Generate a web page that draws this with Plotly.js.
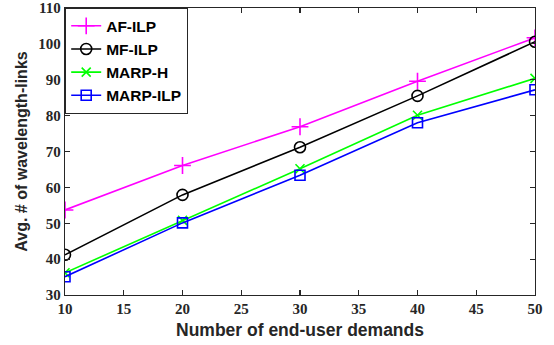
<!DOCTYPE html>
<html><head><meta charset="utf-8">
<script src="https://cdn.plot.ly/plotly-3.0.1.min.js"></script>
<style>html,body{margin:0;padding:0;background:#fff}#chart{width:554px;height:345px}</style>
</head><body><div id="chart"></div>
<script>
const demands = [10, 20, 30, 40, 50];
const afIlp = [53.7, 66.1, 76.9, 89.6, 101.7];
const mfIlp = [41.2, 57.9, 71.2, 85.5, 100.6];
const marpH = [36.2, 50.8, 65.2, 80.1, 90.4];
const marpIlp = [35.1, 50.1, 63.4, 78.0, 87.2];
const xTicks = [10, 15, 20, 25, 30, 35, 40, 45, 50];
const yTicks = [30, 40, 50, 60, 70, 80, 90, 100, 110];

function tr(name, y, color, symbol, size) {
  return {x: demands, y: y, name: name, type: 'scatter', mode: 'lines+markers',
    line: {color: color, width: 1.6},
    marker: {symbol: symbol, size: size, color: color, line: {color: color, width: 1.6}}};
}
const data = [
  tr('AF-ILP', afIlp, '#ff00ff', 'cross-thin-open', 12),
  tr('MF-ILP', mfIlp, '#000000', 'circle-open', 11),
  tr('MARP-H', marpH, '#00ff00', 'x-thin-open', 9),
  tr('MARP-ILP', marpIlp, '#0000ff', 'square-open', 10)
];
const axisCommon = {showgrid: false, zeroline: false, showline: true, linecolor: '#262626', linewidth: 1.2,
  mirror: 'ticks', ticks: 'inside', ticklen: 5, tickcolor: '#262626', tickwidth: 1.2,
  tickfont: {family: 'Liberation Serif', size: 15, color: '#262626', weight: 'bold'}};
const layout = {
  width: 554, height: 345,
  margin: {l: 65, r: 19, t: 8, b: 50},
  paper_bgcolor: '#fff', plot_bgcolor: '#fff',
  showlegend: true,
  legend: {x: 0, y: 1, xanchor: 'left', yanchor: 'top', bgcolor: '#fff', bordercolor: '#262626', borderwidth: 1.2,
    font: {family: 'Liberation Sans', size: 15.5, color: '#000', weight: 'bold'}, tracegroupgap: 0, itemwidth: 30},
  xaxis: Object.assign({}, axisCommon, {range: [10, 50], tickvals: xTicks,
    title: {text: 'Number of end-user demands', standoff: 7, font: {family: 'Liberation Sans', size: 17.5, color: '#262626', weight: 'bold'}}}),
  yaxis: Object.assign({}, axisCommon, {range: [30, 110], tickvals: yTicks,
    title: {text: 'Avg. # of wavelength-links', standoff: 6, font: {family: 'Liberation Sans', size: 16, color: '#262626', weight: 'bold'}}})
};
Plotly.newPlot('chart', data, layout, {displayModeBar: false, staticPlot: true});
</script></body></html>
